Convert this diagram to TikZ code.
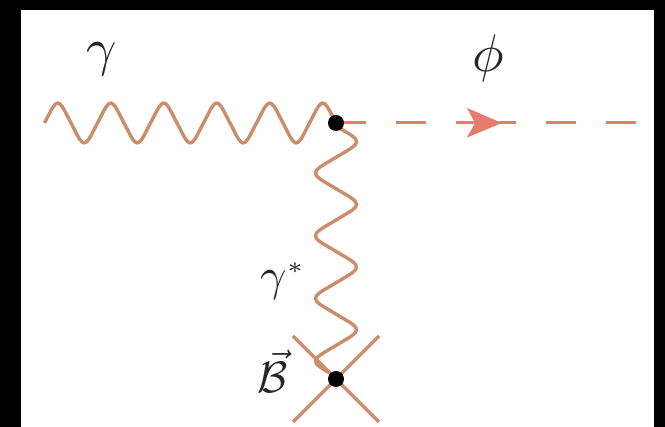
\documentclass[tikz,border=0pt]{standalone}
\definecolor{photon}{RGB}{203,141,108}
\definecolor{scalar}{RGB}{229,124,110}
\tikzset{
  photonline/.style={draw=photon,line width=3.4pt,line join=round},
  scalarline/.style={draw=scalar,line width=3pt,dash pattern=on 30pt off 30pt},
  crossline/.style={draw=photon,line width=3.2pt},
  vertexdot/.style={circle,fill=black,inner sep=0pt,minimum size=16pt},
  mathlabel/.style={inner sep=0pt,text=black!85}
}
\begin{document}
\begin{tikzpicture}[x=1pt,y=-1pt]
\useasboundingbox (0,0) rectangle (665,427);
\fill[black] (0,0) rectangle (665,427);
\fill[white] (21,10) rectangle (654,427);
\coordinate (v1) at (336,123);
\coordinate (v2) at (336,379);
\coordinate (mid) at (486,123);
\coordinate (end) at (636,123);
\coordinate (ctl) at (293,336);
\coordinate (cbr) at (379,422);
\coordinate (ctr) at (379,336);
\coordinate (cbl) at (293,422);
\draw[crossline] (ctl) -- (cbr);
\draw[crossline] (ctr) -- (cbl);
\draw[scalarline] (v1) -- (mid);
\draw[scalarline] (mid) -- (end);
\fill[scalar] (502,123) -- (467,108) -- (475,123) -- (467,137.5) -- cycle;
\draw[photonline] plot[smooth,samples=133,domain=0:5.5] ({44.5+53*\x},{123-19*(sin(360*\x)-sin(1080*\x)/20)});
\draw[photonline] (v1) -- plot[smooth,samples=97,domain=0:4] ({336+19.5*(sin(360*\x)-sin(1080*\x)/20)},{126+62.7*\x}) -- (v2);
\node[vertexdot] (d1) at (v1) {};
\node[vertexdot] (d2) at (v2) {};
\node[mathlabel,scale=5.3] (g) at (102,59) {$\gamma$};
\node[mathlabel,scale=5.3] (p) at (488,58.5) {$\phi$};
\node[mathlabel,scale=4.6] (gs) at (283,281) {$\gamma^{\scriptscriptstyle *}$};
\node[mathlabel,scale=4.4] (b) at (272.5,371.5) {$\vec{\mathcal{B}}$};
\end{tikzpicture}
\end{document}
